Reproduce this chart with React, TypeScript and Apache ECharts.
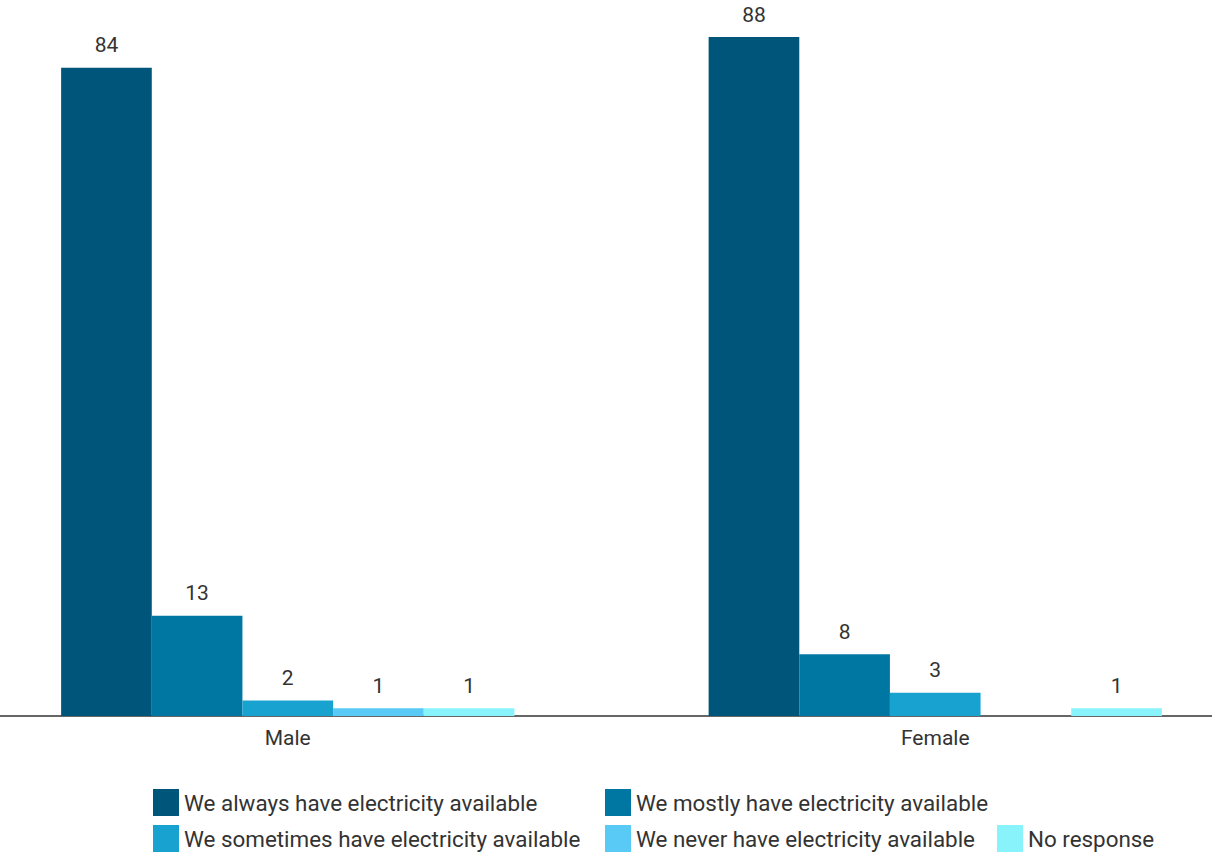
import React, { useEffect, useRef } from "react";
import * as echarts from "echarts";

const categories = ["Male", "Female"];
const seriesNames = [
  "We always have electricity available",
  "We mostly have electricity available",
  "We sometimes have electricity available",
  "We never have electricity available",
  "No response",
];
const alwaysValues = [84, 88];
const mostlyValues = [13, 8];
const sometimesValues = [2, 3];
const neverValues = [1, 0];
const noResponseValues = [1, 1];
const colors = ["#00567a", "#0077a2", "#18a2cf", "#58caf5", "#89f3fc"];

const OFF_LEFT = 36;
const OFF_RIGHT = 47;

export default function App() {
  const ref = useRef<HTMLDivElement>(null);
  useEffect(() => {
    if (!ref.current) return;
    const chart = echarts.init(ref.current, null, { renderer: "svg" });
    const values = [alwaysValues, mostlyValues, sometimesValues, neverValues, noResponseValues];
    const font = "Roboto";
    const legendCommon = {
      orient: "vertical" as const,
      icon: "rect",
      itemWidth: 26,
      itemHeight: 27,
      itemGap: 9,
      textStyle: { fontFamily: font, fontSize: 22.4, color: "#333" },
      selectedMode: false,
      padding: 0,
    };
    chart.setOption({
      animation: false,
      textStyle: { fontFamily: font },
      grid: { left: 0, right: 0, top: 37, bottom: 137, containLabel: false },
      legend: [
        { ...legendCommon, left: 153 + OFF_LEFT, top: 789, data: [seriesNames[0], seriesNames[2]] },
        { ...legendCommon, left: 605 + OFF_LEFT, top: 789, data: [seriesNames[1], seriesNames[3]] },
        { ...legendCommon, left: 997 + OFF_LEFT, top: 825, data: [seriesNames[4]] },
      ],
      xAxis: {
        type: "category",
        data: categories,
        axisLine: { show: true, lineStyle: { color: "#333", width: 1.5 } },
        axisTick: { show: false },
        axisLabel: { fontFamily: font, fontSize: 21, color: "#333", margin: 11 },
      },
      yAxis: {
        type: "value",
        min: 0,
        max: 88,
        show: false,
        splitLine: { show: false },
      },
      series: seriesNames.map((name, i) => ({
        name,
        type: "bar",
        data: values[i],
        barGap: "0%",
        barCategoryGap: "30%",
        itemStyle: { color: colors[i] },
        label: {
          show: true,
          position: "top",
          distance: 12,
          fontFamily: font,
          fontSize: 21,
          color: "#333",
          formatter: (p: any) => (p.value === 0 ? "" : String(p.value)),
        },
      })),
    });
    return () => chart.dispose();
  }, []);
  return (
    <div style={{ position: "absolute", left: 0, top: 0, width: 1212, height: 853, overflow: "hidden" }}>
      <div
        ref={ref}
        style={{ position: "absolute", left: -OFF_LEFT, top: 0, width: 1212 + OFF_LEFT + OFF_RIGHT, height: 853 }}
      />
    </div>
  );
}
